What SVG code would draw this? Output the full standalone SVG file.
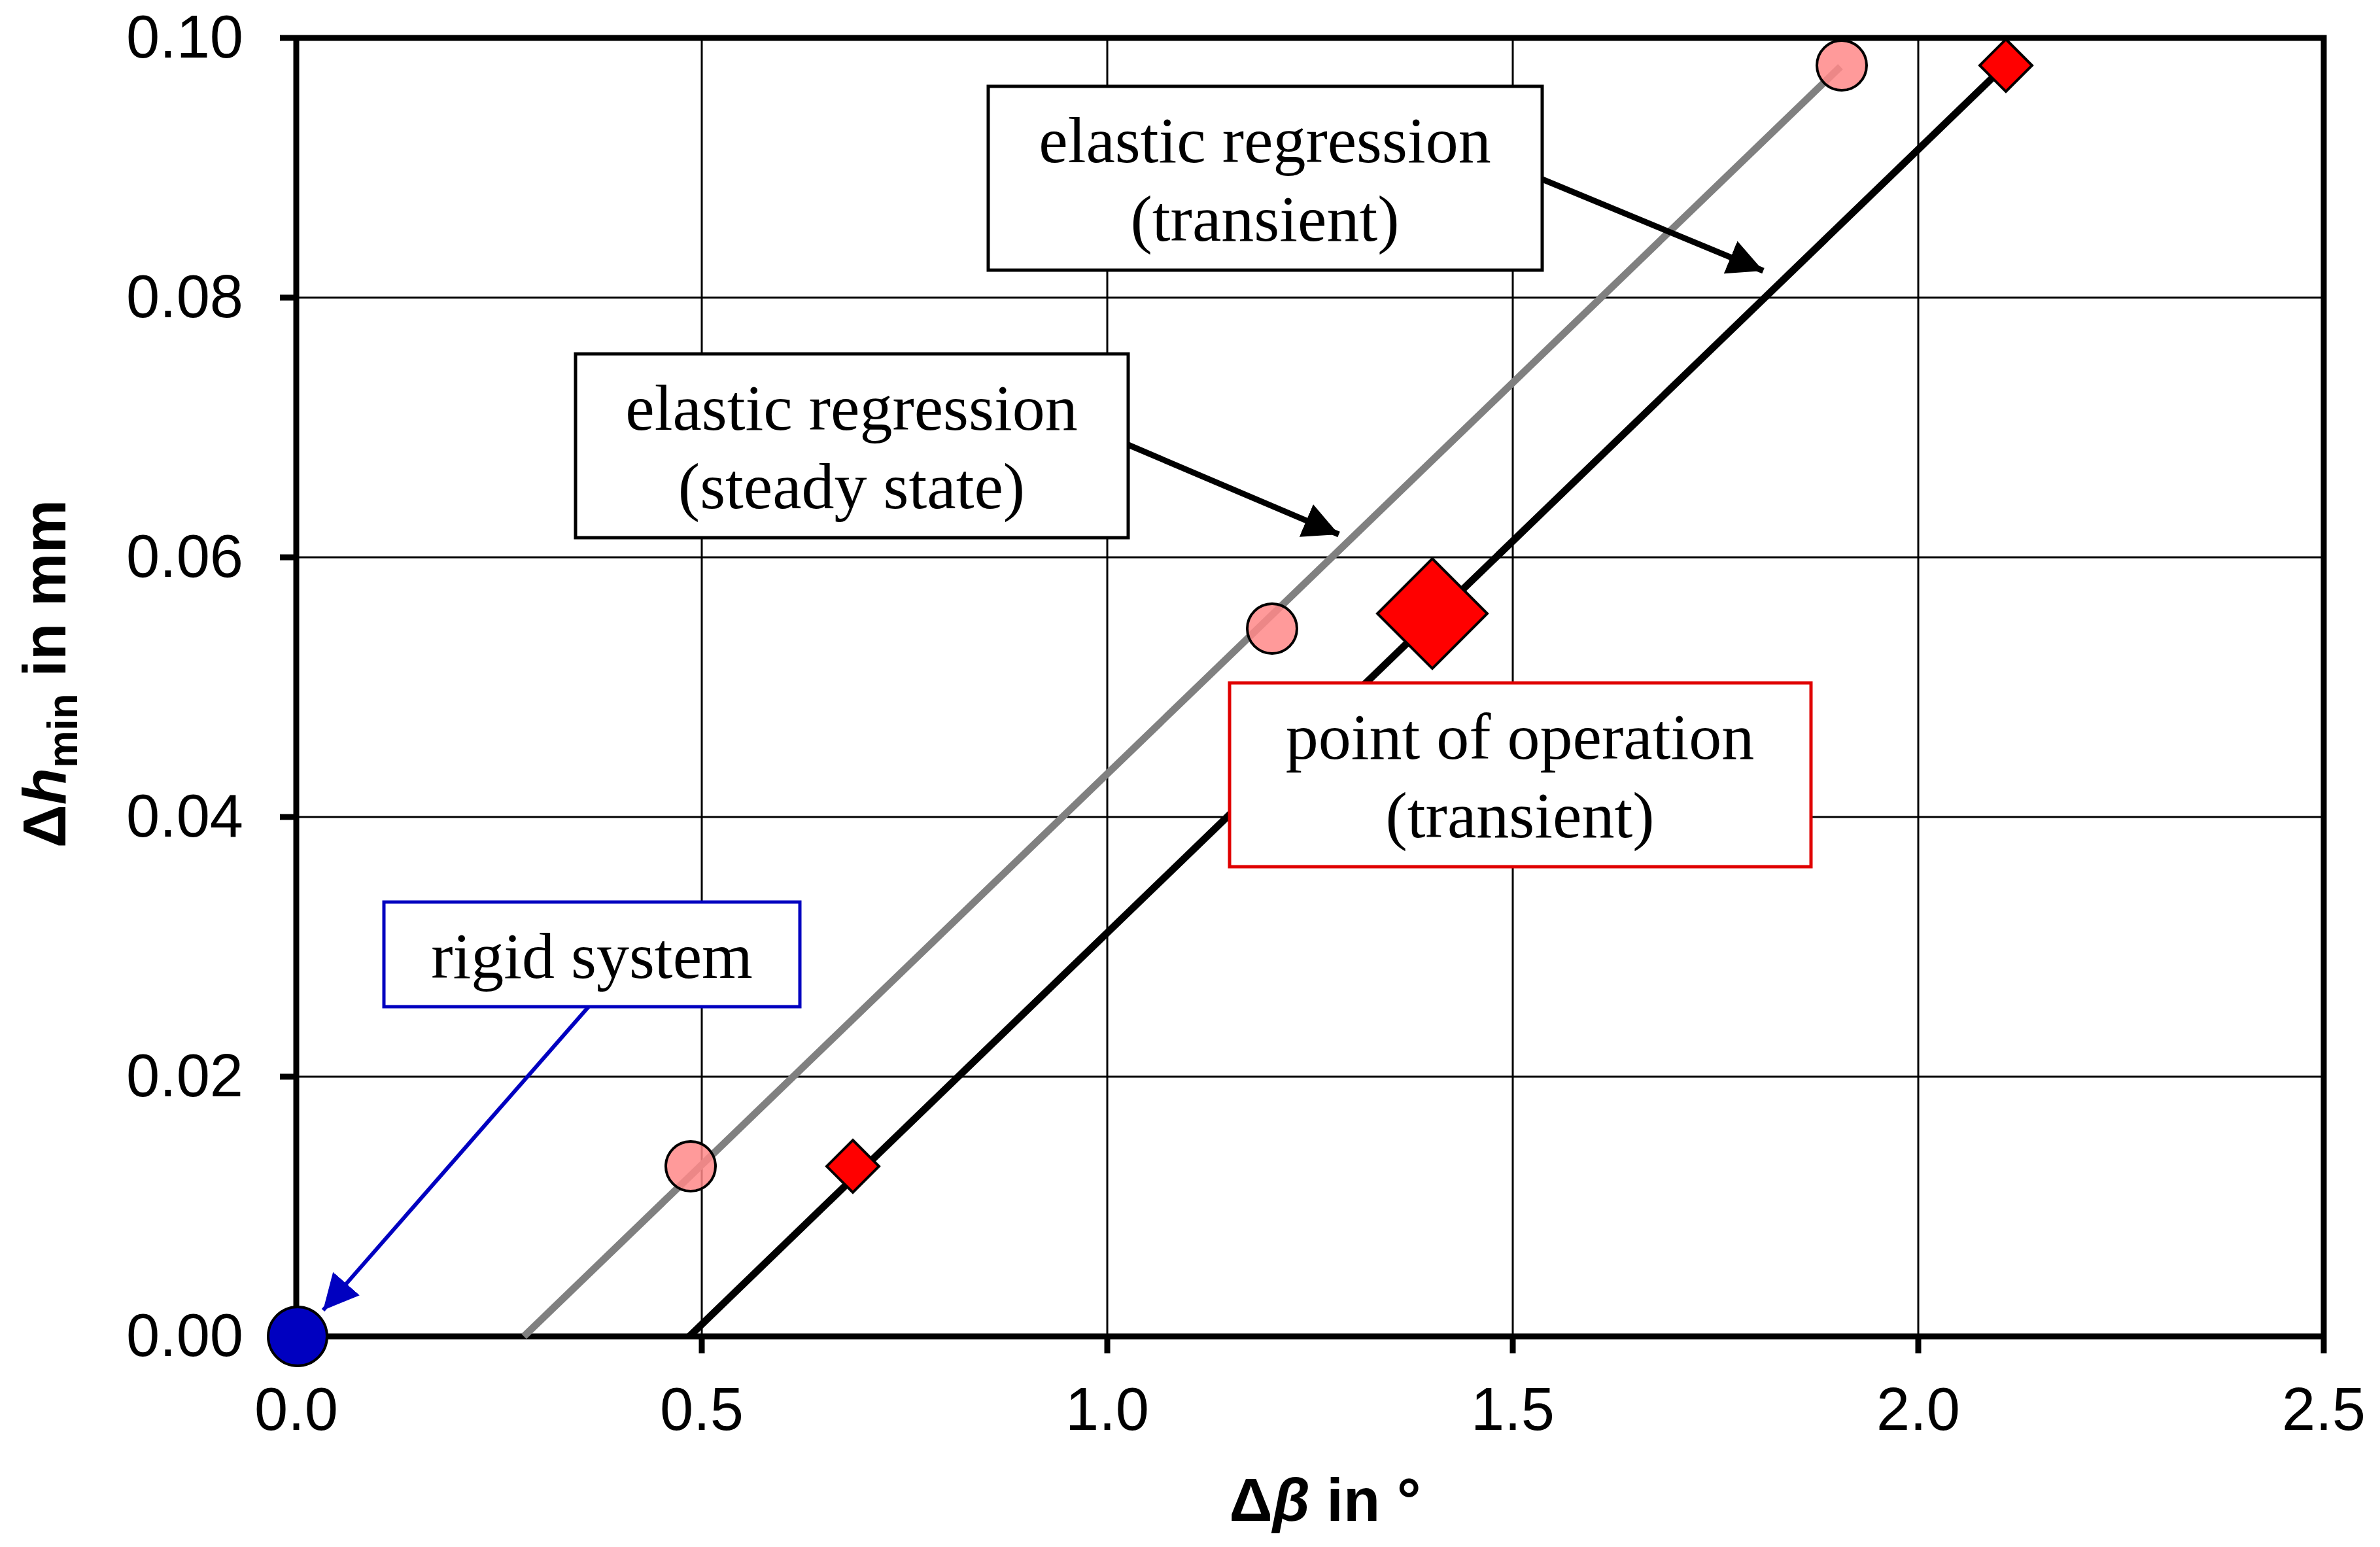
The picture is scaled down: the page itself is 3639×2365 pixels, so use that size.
<svg xmlns="http://www.w3.org/2000/svg" width="3639" height="2365" viewBox="0 0 3639 2365">
<style>
.grid{stroke:#000;stroke-width:3;fill:none}
.ax{stroke:#000;stroke-width:9;fill:none}
.tl{font-family:"Liberation Sans",Arial,sans-serif;font-size:92px;fill:#000}
.ttl{font-family:"Liberation Sans",Arial,sans-serif;font-size:92px;font-weight:bold;fill:#000}
.lbl{font-family:"Liberation Serif","Times New Roman",serif;font-size:100px;fill:#000;text-anchor:middle}
.box{fill:#fff;stroke-width:5}
.circ{fill:#f88;stroke:#000;stroke-width:4}
.dia{fill:#f00;stroke:#000;stroke-width:4}
</style>
<defs>
<marker id="ab" viewBox="0 0 10 10" refX="10" refY="5" markerWidth="6" markerHeight="6" markerUnits="strokeWidth" orient="auto"><path d="M0,0L10,5L0,10z" fill="#000"/></marker>
<marker id="abl" viewBox="0 0 10 10" refX="10" refY="5" markerWidth="9" markerHeight="9" markerUnits="strokeWidth" orient="auto"><path d="M0,0L10,5L0,10z" fill="#0000c0"/></marker>
</defs>
<rect width="3639" height="2365" fill="#fff"/>
<g id="grid">
<path class="grid" d="M1073,58V2043M1693,58V2043M2313,58V2043M2933,58V2043M453,1646H3553M453,1249H3553M453,852H3553M453,455H3553"/>
</g>
<g id="axes">
<path class="ax" d="M453,58V2043H3553M453,58H3553V2043"/>
<path class="ax" stroke-width="6" d="M428,58H453M428,455H453M428,852H453M428,1249H453M428,1646H453M428,2043H453M453,2043V2069M1073,2043V2069M1693,2043V2069M2313,2043V2069M2933,2043V2069M3553,2043V2069"/>
<g class="tl" text-anchor="end">
<text x="372" y="88">0.10</text><text x="372" y="485">0.08</text><text x="372" y="882">0.06</text><text x="372" y="1279">0.04</text><text x="372" y="1676">0.02</text><text x="372" y="2073">0.00</text>
</g>
<g class="tl" text-anchor="middle">
<text x="453" y="2186">0.0</text><text x="1073" y="2186">0.5</text><text x="1693" y="2186">1.0</text><text x="2313" y="2186">1.5</text><text x="2933" y="2186">2.0</text><text x="3553" y="2186">2.5</text>
</g>
<text class="ttl" x="2026" y="2325" text-anchor="middle">Δ<tspan font-style="italic">β</tspan> in °</text>
<text class="ttl" transform="translate(100,1030) rotate(-90)" text-anchor="middle">Δ<tspan font-style="italic">h</tspan><tspan font-size="64" dy="18">min</tspan><tspan dy="-18"> in mm</tspan></text>
</g>
<g id="lines">
<line x1="801" y1="2043" x2="2814" y2="102" stroke="#808080" stroke-width="11"/>
<line x1="1054" y1="2043" x2="3066" y2="100" stroke="#000" stroke-width="11"/>
</g>
<g id="points">
<circle class="circ" cx="1056" cy="1783" r="38" fill-opacity="0.85"/>
<circle class="circ" cx="1945" cy="961" r="38" fill-opacity="0.85"/>
<circle class="circ" cx="2816" cy="100" r="38" fill-opacity="0.85"/>
<path class="dia" d="M1304,1743L1344,1783L1304,1823L1264,1783Z"/>
<path class="dia" d="M3067,60L3107,100L3067,140L3027,100Z"/>
<path class="dia" stroke-width="6" d="M2190,854L2274,938L2190,1022L2106,938Z"/>
<circle cx="455" cy="2043" r="45" fill="#0000c0" stroke="#000" stroke-width="4"/>
</g>
<g id="connectors">
<line x1="2358" y1="274" x2="2696" y2="414" stroke="#000" stroke-width="9" marker-end="url(#ab)"/>
<line x1="1725" y1="680" x2="2047" y2="817" stroke="#000" stroke-width="9" marker-end="url(#ab)"/>
<line x1="900" y1="1539" x2="494" y2="2003" stroke="#0000c0" stroke-width="6" marker-end="url(#abl)"/>
</g>
<g id="box-transient">
<rect class="box" x="1511" y="132" width="847" height="281" stroke="#000"/>
<text class="lbl" x="1934" y="248">elastic regression</text>
<text class="lbl" x="1934" y="368">(transient)</text>
</g>
<g id="box-steady">
<rect class="box" x="880" y="541" width="845" height="281" stroke="#000"/>
<text class="lbl" x="1302" y="657">elastic regression</text>
<text class="lbl" x="1302" y="777">(steady state)</text>
</g>
<g id="box-operation">
<rect class="box" x="1880" y="1044" width="889" height="281" stroke="#e00000"/>
<text class="lbl" x="2324" y="1160">point of operation</text>
<text class="lbl" x="2324" y="1280">(transient)</text>
</g>
<g id="box-rigid">
<rect class="box" x="587" y="1379" width="636" height="160" stroke="#0000c0"/>
<text class="lbl" x="905" y="1495">rigid system</text>
</g>
</svg>
